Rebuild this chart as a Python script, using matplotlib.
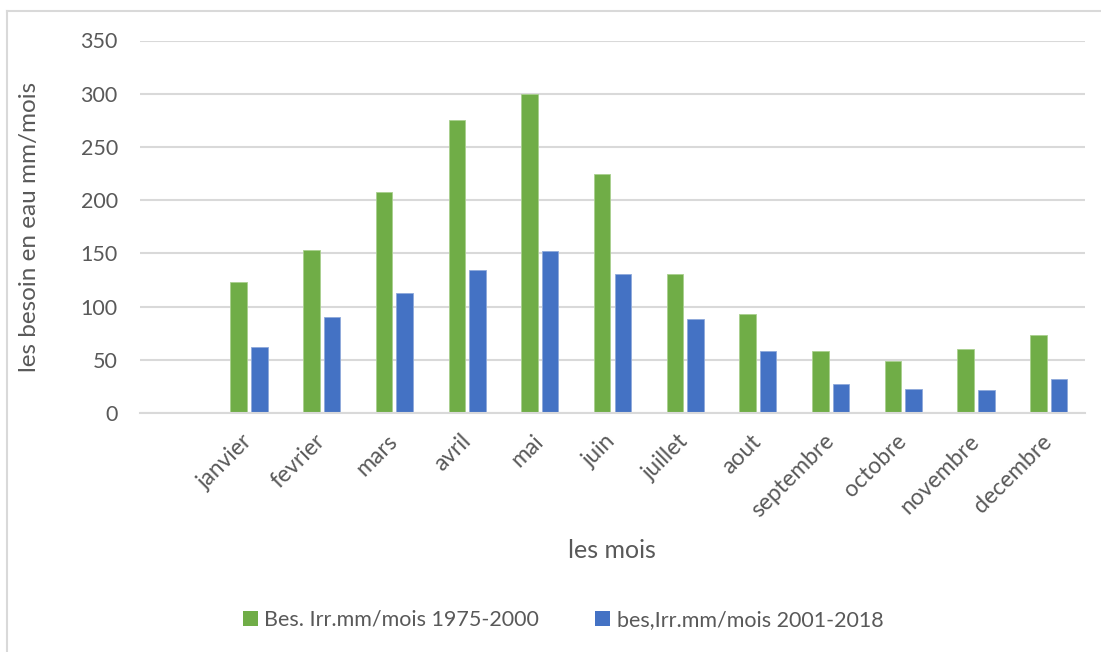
import matplotlib
matplotlib.use("Agg")
import matplotlib.pyplot as plt
import numpy as np
from matplotlib.lines import Line2D
from matplotlib.patches import Patch

# categories (first slot left empty, as in the workbook)
mois = ["", "janvier", "fevrier", "mars", "avril", "mai", "juin", "juillet",
        "aout", "septembre", "octobre", "novembre", "decembre"]

# irrigation need, mm/month
bes_1975_2000 = [np.nan, 123, 153, 208, 275, 300, 225, 131, 93, 58, 49, 60, 73]
bes_2001_2018 = [np.nan, 62, 90, 113, 134, 152, 131, 88, 58, 27, 23, 22, 32]

label_1 = "Bes. Irr.mm/mois 1975-2000"
label_2 = "bes,Irr.mm/mois 2001-2018"

green = "#70AD47"
blue = "#4472C4"
grid_col = "#D9D9D9"
txt_col = "#595959"

plt.rcParams['font.family'] = ['Lato', 'DejaVu Sans']

fig = plt.figure(figsize=(11.01, 6.52), dpi=100)
ax = fig.add_axes([140 / 1101, 1 - 413 / 652, 945 / 1101, 372.5 / 652])

x = np.arange(len(mois))
w = 0.227
off = 0.142
ax.bar(x - off, bes_1975_2000, width=w, color=green, edgecolor="#A9D08E",
       linewidth=0.6, zorder=3, label=label_1)
ax.bar(x + off, bes_2001_2018, width=w, color=blue, edgecolor="#8EA9DB",
       linewidth=0.6, zorder=3, label=label_2)

ax.set_xlim(-0.5, len(mois) - 0.5)
ax.set_ylim(0, 350)
ax.set_yticks(np.arange(0, 351, 50))
ax.yaxis.grid(True, color=grid_col, linewidth=1.5, zorder=0)
ax.set_axisbelow(True)

for s in ["top", "right", "left"]:
    ax.spines[s].set_visible(False)
ax.spines["bottom"].set_color(grid_col)
ax.spines["bottom"].set_linewidth(1.5)
ax.spines["bottom"].set_zorder(4)

ax.set_xticks(x)
ax.set_xticklabels(mois, rotation=45, ha="right", va="center",
                   rotation_mode="anchor")
ax.tick_params(axis="both", length=0, labelsize=15.5, colors=txt_col)
ax.tick_params(axis="x", labelsize=16.5, pad=18)
ax.tick_params(axis="y", pad=16)

ax.set_ylabel("les besoin en eau mm/mois", fontsize=17.5, color=txt_col)
ax.yaxis.set_label_coords(-100 / 945, 0.5)
fig.text(612 / 1101, 1 - 550 / 652, "les mois", fontsize=18, color=txt_col,
         ha="center", va="center")

handles = [Patch(facecolor=green, label=label_1),
           Patch(facecolor=blue, label=label_2)]
fig.legend(handles=handles, loc="center", bbox_to_anchor=(563 / 1101, 1 - 620 / 652),
           ncol=2, frameon=False, fontsize=15.5, labelcolor=txt_col,
           handlelength=0.7, handleheight=0.7, handletextpad=0.3, columnspacing=2.6)

# chart border
fig.add_artist(Line2D([7 / 1101, 1], [1 - 11 / 652] * 2, color=grid_col, linewidth=1.5))
fig.add_artist(Line2D([7 / 1101] * 2, [0, 1 - 11 / 652], color=grid_col, linewidth=1.5))

fig.savefig("out.png", dpi=100)
